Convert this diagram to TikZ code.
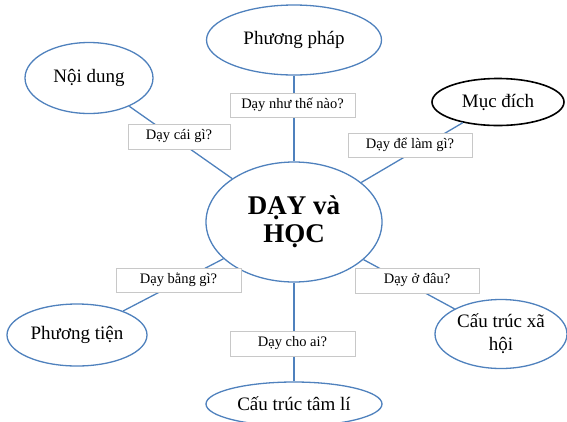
\documentclass[tikz,border=0pt]{standalone}
\usepackage{fontspec}
\setmainfont{Liberation Serif}
\usetikzlibrary{shapes.geometric}
\definecolor{ablue}{HTML}{4F81BD}
\definecolor{boxgray}{HTML}{C8C8C8}
\tikzset{
  topic/.style={ellipse, draw=ablue, line width=1.3pt, fill=white, inner sep=0pt, font=\fontsize{19}{23}\selectfont, align=center},
  qbox/.style={rectangle, draw=boxgray, line width=0.6pt, fill=white, inner sep=0pt, minimum width=124pt, minimum height=24pt, font=\fontsize{14.5}{16}\selectfont},
  link/.style={draw=ablue, line width=1.3pt}
}
\begin{document}
\begin{tikzpicture}[x=1pt,y=-1pt]
\useasboundingbox (0,0) rectangle (567,421);
% nodes
\node[topic, minimum width=176pt, minimum height=120pt, font=\bfseries\fontsize{27}{28}\selectfont] (c) at (294,222) {DẠY và\\HỌC};
\node[topic, minimum width=128pt, minimum height=71pt] (nd) at (89,78) {Nội dung};
\node[topic, minimum width=175pt, minimum height=70pt] (pp) at (294,40) {Phương pháp};
\node[topic, draw=black, line width=1.6pt, minimum width=132pt, minimum height=47pt] (md) at (498,102) {Mục đích};
\node[topic, minimum width=140pt, minimum height=62pt] (pt) at (77,335) {Phương tiện};
\node[topic, minimum width=132pt, minimum height=69pt] (xh) at (501,334) {Cấu trúc xã\\hội};
\node[topic, minimum width=176pt, minimum height=44pt] (tl) at (294,404) {Cấu trúc tâm lí};
% connectors
\draw[link] (nd) -- (c);
\draw[link] (pp) -- (c);
\draw[link] (md) -- (c);
\draw[link] (pt) -- (c);
\draw[link] (xh) -- (c);
\draw[link] (tl) -- (c);
% question boxes
\node[qbox, minimum width=102pt, minimum height=25pt] (q1) at (179,136.5) {Dạy cái gì?};
\node[qbox, minimum width=125pt] (q2) at (292.5,105) {Dạy như thế nào?};
\node[qbox] (q3) at (410,145) {Dạy để làm gì?};
\node[qbox, minimum width=125pt] (q4) at (178.5,280) {Dạy bằng gì?};
\node[qbox, minimum height=25pt] (q5) at (417,280.5) {Dạy ở đâu?};
\node[qbox, minimum width=125pt, minimum height=25pt] (q6) at (292.5,343.5) {Dạy cho ai?};
\end{tikzpicture}
\end{document}
